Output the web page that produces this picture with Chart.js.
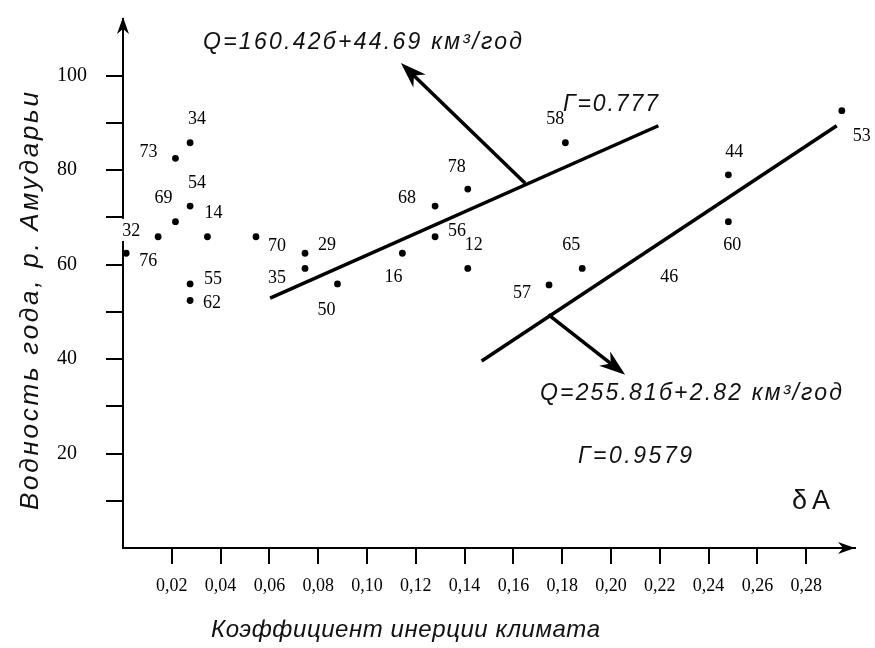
<!DOCTYPE html>
<html>
<head>
<meta charset="utf-8">
<script src="https://cdn.jsdelivr.net/npm/chart.js@4.4.1/dist/chart.umd.min.js"></script>
<style>
  html, body { margin: 0; padding: 0; background: #fff; }
  #wrap { width: 875px; height: 648px; }
</style>
</head>
<body>
<div id="wrap"><canvas id="chart" width="875" height="648"></canvas></div>
<script>
// Year labels (last two digits) for each dot
const years = ['34', '73', '54', '69', '14', '32', '76', '70', '29', '35', '55', '62', '50',
               '16', '68', '56', '78', '12', '58', '57', '65', '44', '60', '53'];
// Climate inertia coefficient (δA)
const delta = [0.0275, 0.0215, 0.0275, 0.0215, 0.0346, 0.0144, 0.0013, 0.0545, 0.0746, 0.0746, 0.0275, 0.0275, 0.0879,
               0.1145, 0.1279, 0.1279, 0.1413, 0.1413, 0.1813, 0.1746, 0.1882, 0.2481, 0.2481, 0.2946];
// Water content of the year, Amu Darya (km3)
const flow = [85.8, 82.5, 72.4, 69.1, 65.9, 65.9, 62.4, 65.9, 62.4, 59.2, 55.9, 52.4, 55.9,
              62.4, 72.4, 65.9, 76.0, 59.2, 85.8, 55.7, 59.2, 79.0, 69.1, 92.6];

// year 46 has a label but no visible dot
const bareYears = ['46'];
const bareDelta = [0.2239];
const bareFlow = [57.3];

// the two regression lines, as drawn
const lineAx = [0.0603, 0.2194];
const lineAy = [52.9, 89.4];
const lineBx = [0.147, 0.2925];
const lineBy = [39.6, 89.4];

// pointer arrows from each line to its equation
const arrowAx = [0.1648, 0.1139];
const arrowAy = [77.2, 102.7];
const arrowBx = [0.1743, 0.2058];
const arrowBy = [49.4, 36.7];

// axis ticks
const xTickValues = [0.02, 0.04, 0.06, 0.08, 0.10, 0.12, 0.14, 0.16, 0.18, 0.20, 0.22, 0.24, 0.26, 0.28];
const xTickLabels = ['0,02', '0,04', '0,06', '0,08', '0,10', '0,12', '0,14', '0,16', '0,18', '0,20', '0,22', '0,24', '0,26', '0,28'];
const yTickValues = [10, 20, 30, 40, 50, 60, 70, 80, 90, 100];
const yTickLabels = ['', '20', '', '40', '', '60', '', '80', '', '100'];

// where each year label sits relative to its dot (px)
const labelShift = [[7, -23], [-27, -6], [7, -23], [-12, -23], [6, -23], [-27, -5], [22, 8], [21, 10], [22, -8],
                    [-28, 10], [23, -5], [22, 3], [-11, 26], [-9, 24], [-28, -8], [22, -5], [-11, -22], [6, -23],
                    [-10, -23], [-27, 8], [-11, -23], [6, -23], [4, 24], [20, 26]];

// free text on the picture
const notes = [
    { text: 'Q=160.42б+44.69 км³/год', x: 203, y: 43, w: 319, font: 'italic 23px "Liberation Sans"' },
    { text: 'Г=0.777', x: 563, y: 105, w: 95, font: 'italic 23px "Liberation Sans"' },
    { text: 'Q=255.81б+2.82 км³/год', x: 540, y: 394, w: 302, font: 'italic 23px "Liberation Sans"' },
    { text: 'Г=0.9579', x: 578, y: 457, w: 114, font: 'italic 23px "Liberation Sans"' },
    { text: 'δA', x: 792, y: 502, w: 38, font: '27px "Liberation Sans"' },
    { text: 'Коэффициент инерции климата', x: 211, y: 630, w: 389, font: 'italic 24px "Liberation Sans"' }
];
const yTitle = 'Водность года, р. Амударьи';

const pt = (xs, ys) => xs.map((v, i) => ({ x: v, y: ys[i] }));

// draw text stretched to a given width with letter spacing
function spacedText(ctx, text, x, y, width) {
    ctx.letterSpacing = '0px';
    const w = ctx.measureText(text).width;
    const n = [...text].length;
    ctx.letterSpacing = ((width - w) / (n - 1)) + 'px';
    ctx.fillText(text, x, y);
    ctx.letterSpacing = '0px';
}

function arrowHead(ctx, x0, y0, x1, y1, len, half) {
    const ang = Math.atan2(y1 - y0, x1 - x0);
    ctx.save();
    ctx.translate(x1, y1);
    ctx.rotate(ang);
    ctx.beginPath();
    ctx.moveTo(0, 0);
    ctx.lineTo(-len, -half);
    ctx.lineTo(-len * 0.7, 0);
    ctx.lineTo(-len, half);
    ctx.closePath();
    ctx.fill();
    ctx.restore();
}

const decor = {
    id: 'decor',
    afterDraw(chart) {
        const { ctx, chartArea: a, scales: { x, y } } = chart;
        ctx.save();
        // break in the value axis
        ctx.fillStyle = '#fff';
        const yTop = y.getPixelForValue(70) + 1.5;
        ctx.fillRect(a.left - 3, yTop, 5, y.getPixelForValue(65) - yTop);

        // axis arrows
        ctx.fillStyle = '#000';
        arrowHead(ctx, a.left, a.bottom, a.left, a.top - 2, 17, 6);
        arrowHead(ctx, a.left, a.bottom, a.right, a.bottom, 17, 6);

        // year labels
        ctx.font = '18px "Liberation Serif"';
        ctx.textAlign = 'center';
        ctx.textBaseline = 'middle';
        years.forEach((t, i) => {
            ctx.fillText(t, x.getPixelForValue(delta[i]) + labelShift[i][0], y.getPixelForValue(flow[i]) + labelShift[i][1]);
        });
        bareYears.forEach((t, i) => {
            ctx.fillText(t, x.getPixelForValue(bareDelta[i]), y.getPixelForValue(bareFlow[i]));
        });

        // arrows pointing at the equations
        ctx.strokeStyle = '#000';
        ctx.lineWidth = 3.5;
        [[arrowAx, arrowAy], [arrowBx, arrowBy]].forEach(([ax, ay]) => {
            const x0 = x.getPixelForValue(ax[0]), y0 = y.getPixelForValue(ay[0]);
            const x1 = x.getPixelForValue(ax[1]), y1 = y.getPixelForValue(ay[1]);
            const ang = Math.atan2(y1 - y0, x1 - x0);
            ctx.beginPath();
            ctx.moveTo(x0, y0);
            ctx.lineTo(x1 - Math.cos(ang) * 10, y1 - Math.sin(ang) * 10);
            ctx.stroke();
            arrowHead(ctx, x0, y0, x1, y1, 26, 9);
        });

        // texts
        ctx.fillStyle = '#111';
        ctx.textAlign = 'left';
        notes.forEach(n => {
            ctx.font = n.font;
            spacedText(ctx, n.text, n.x, n.y, n.w);
        });
        ctx.translate(31, 301);
        ctx.rotate(-Math.PI / 2);
        ctx.font = 'italic 26px "Liberation Sans"';
        spacedText(ctx, yTitle, -209, 0, 418);
        ctx.restore();
    }
};

new Chart(document.getElementById('chart'), {
    type: 'scatter',
    data: {
        datasets: [
            { data: pt(delta, flow), pointRadius: 3.4, pointBackgroundColor: '#000', pointBorderWidth: 0, clip: false },
            { data: pt(bareDelta, bareFlow), pointRadius: 0, clip: false },
            { data: pt(lineAx, lineAy), showLine: true, borderColor: '#000', borderWidth: 3.5, pointRadius: 0 },
            { data: pt(lineBx, lineBy), showLine: true, borderColor: '#000', borderWidth: 3.5, pointRadius: 0 }
        ]
    },
    options: {
        responsive: false,
        animation: false,
        layout: { padding: { left: 57, top: 19, right: 20, bottom: 0 } },
        plugins: { legend: { display: false }, tooltip: { enabled: false } },
        scales: {
            x: {
                type: 'linear',
                min: 0,
                max: 0.3,
                afterBuildTicks: s => { s.ticks = xTickValues.map(v => ({ value: v })); },
                afterFit: s => { s.height = 100; },
                grid: { drawOnChartArea: false, drawTicks: true, tickLength: 16, color: '#000', lineWidth: 2 },
                border: { color: '#000', width: 2 },
                ticks: {
                    callback: (v, i) => xTickLabels[i],
                    font: { family: 'Liberation Serif', size: 18 },
                    color: '#000',
                    padding: 11,
                    maxRotation: 0,
                    autoSkip: false
                }
            },
            y: {
                type: 'linear',
                min: 0,
                max: 112,
                afterBuildTicks: s => { s.ticks = yTickValues.map(v => ({ value: v })); },
                afterFit: s => { s.width = 66; },
                grid: { drawOnChartArea: false, drawTicks: true, tickLength: 17, color: '#000', lineWidth: 2 },
                border: { color: '#000', width: 2 },
                ticks: {
                    callback: (v, i) => yTickLabels[i],
                    font: { family: 'Liberation Serif', size: 20 },
                    color: '#000',
                    crossAlign: 'far',
                    autoSkip: false
                }
            }
        }
    },
    plugins: [decor]
});
</script>
</body>
</html>
